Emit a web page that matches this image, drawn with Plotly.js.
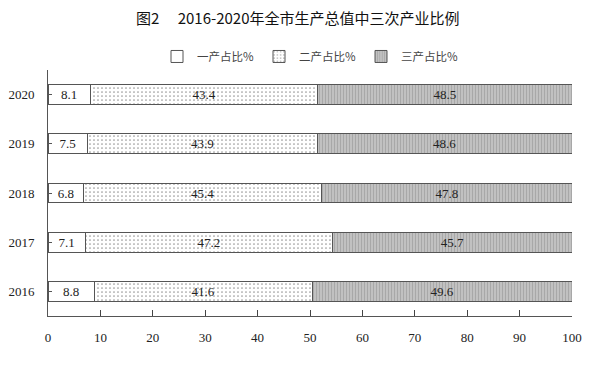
<!DOCTYPE html>
<html><head><meta charset="utf-8">
<script src="https://cdn.plot.ly/plotly-3.0.1.min.js"></script>
<style>body{margin:0;background:#fff}#c{width:604px;height:365px}</style>
</head><body><div id="c"></div>
<script>
const years = ['2016','2017','2018','2019','2020'];
const primary = [8.8, 7.1, 6.8, 7.5, 8.1];
const secondary = [41.6, 47.2, 45.4, 43.9, 43.4];
const tertiary = [49.6, 45.7, 47.8, 48.6, 48.5];
const names = ['一产占比%', '二产占比%', '三产占比%'];

const serif = 'Liberation Serif, DejaVu Serif, serif';
const txtFont = {family: serif, size: 13, color: '#222'};
function tr(vals, name, fill, pattern) {
  return {
    type: 'bar', orientation: 'h', y: years, x: vals, name: name,
    text: vals.map(v => v.toFixed(1)), textposition: 'inside', insidetextanchor: 'middle',
    textfont: txtFont, constraintext: 'none',
    marker: {color: fill, line: {color: '#555', width: 1}, pattern: pattern},
    width: 0.4, hoverinfo: 'skip'
  };
}
const data = [
  tr(primary, names[0], '#ffffff', {shape: ''}),
  tr(secondary, names[1], '#ffffff', {shape: '.', fgcolor: '#9a9a9a', size: 4, solidity: 0.15}),
  tr(tertiary, names[2], '#c0c0c0', {shape: '|', fgcolor: '#a8a8a8', bgcolor: '#c4c4c4', size: 3, solidity: 0.4})
];
const layout = {
  width: 604, height: 365, barmode: 'stack', showlegend: true,
  paper_bgcolor: '#fff', plot_bgcolor: '#fff',
  margin: {l: 48, r: 32, t: 69.5, b: 49},
  title: {text: '图2\u2003 2016-2020年全市生产总值中三次产业比例', x: 0.493, xanchor: 'center', y: 0.949, yanchor: 'middle',
          font: {family: 'Noto Sans CJK SC', size: 15, color: '#111'}},
  legend: {orientation: 'h', x: 0.5, xanchor: 'center', y: 1.055, yanchor: 'middle',
           font: {family: 'Noto Sans CJK SC', size: 11.5, color: '#444'}, itemwidth: 30, tracegroupgap: 0, traceorder: 'normal'},
  xaxis: {range: [0, 100], dtick: 10, ticks: 'inside', ticklen: 6, tickwidth: 1, tickcolor: '#444', showline: true, linecolor: '#555', linewidth: 1,
          showgrid: false, zeroline: false, tickfont: {family: serif, size: 13, color: '#222'}, ticklabelstandoff: 9, fixedrange: true},
  yaxis: {ticks: 'inside', ticklen: 4, tickcolor: '#555', tickson: 'boundaries', showline: true, linecolor: '#555', linewidth: 1,
          showgrid: false, tickfont: {family: serif, size: 13, color: '#222'}, ticklabelstandoff: 10, fixedrange: true}
};
Plotly.newPlot('c', data, layout, {displayModeBar: false, staticPlot: true});
</script></body></html>
